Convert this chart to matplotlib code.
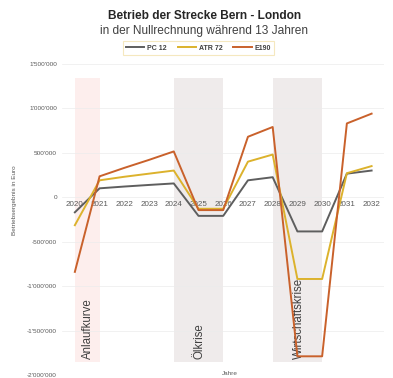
import matplotlib
matplotlib.use("Agg")
import matplotlib.pyplot as plt
from matplotlib.ticker import FuncFormatter

plt.rcParams['font.family'] = ['Liberation Sans', 'DejaVu Sans']

years = [2020, 2021, 2022, 2023, 2024, 2025, 2026, 2027, 2028, 2029, 2030, 2031, 2032]
pc12 = [-170000, 100000, 120000, 138000, 155000, -210000, -210000, 190000, 225000, -385000, -385000, 265000, 300000]
atr72 = [-315000, 190000, 230000, 265000, 300000, -130000, -130000, 400000, 480000, -920000, -920000, 270000, 350000]
e190 = [-840000, 235000, 330000, 420000, 515000, -145000, -145000, 680000, 790000, -1790000, -1790000, 830000, 940000]

series_names = ["PC 12", "ATR 72", "E190"]
series_colors = ["#5e5e5e", "#dcb22c", "#c9612b"]

crises = ["Anlaufkurve", "Ölkrise", "Wirtschaftskrise"]
crisis_start = [2020, 2024, 2028]
crisis_end = [2021, 2026, 2030]
crisis_colors = ["#fdeeed", "#efebeb", "#efebeb"]
band_top = 1340000
band_bottom = -1850000

yticks = [1500000, 1000000, 500000, 0, -500000, -1000000, -1500000, -2000000]

fig = plt.figure(figsize=(3.93, 3.78), dpi=100)
ax = fig.add_axes([0.159, 0.008, 0.818, 0.823])

for name, s, e, c in zip(crises, crisis_start, crisis_end, crisis_colors):
    ax.fill_between([s, e], band_bottom, band_top, color=c, zorder=0, linewidth=0)
    ax.text((s + e) / 2 + 0.05, -1820000, name, rotation=90, ha='center', va='bottom',
            fontsize=8.3, color='#404040', zorder=1)

for vals, name, col in zip([pc12, atr72, e190], series_names, series_colors):
    ax.plot(years, vals, color=col, lw=1.4, label=name, zorder=3)

ax.set_xlim(2019.5, 2032.5)
ax.set_ylim(-2000000, 1500000)
ax.set_yticks(yticks)

def fmt(v, pos):
    s = f"{abs(int(v)):,}".replace(",", "'")
    return ("-" if v < 0 else "") + s

ax.yaxis.set_major_formatter(FuncFormatter(fmt))
ax.set_xticks(years)
ax.set_xticklabels([str(y) for y in years])
for sp in ['top', 'right', 'left']:
    ax.spines[sp].set_visible(False)
ax.spines['bottom'].set_position(('data', 0))
ax.spines['bottom'].set_visible(False)
ax.tick_params(axis='x', length=0, pad=3, labelsize=5.8, labelcolor='#595959')
ax.tick_params(axis='y', length=0, pad=4, labelsize=4.6, labelcolor='#595959')
ax.grid(axis='y', color='#ececec', lw=0.5, zorder=0.5)
ax.set_axisbelow(True)

fig.text(0.038, 0.47, "Betriebsergebnis in Euro", rotation=90, ha='center', va='center',
         fontsize=4.6, color='#595959')
fig.text(0.585, 0.013, "Jahre", ha='center', va='center', fontsize=4.6, color='#595959')

fig.text(0.52, 0.957, "Betrieb der Strecke Bern - London", ha='center', va='center',
         fontsize=8.6, fontweight='bold', color='#262626')
fig.text(0.52, 0.917, "in der Nullrechnung während 13 Jahren", ha='center', va='center',
         fontsize=8.6, color='#404040')

leg = fig.legend(loc='center', bbox_to_anchor=(0.505, 0.873), ncol=3, frameon=True,
                 fontsize=5, handlelength=2.6, columnspacing=1.6, handletextpad=0.4,
                 borderpad=0.5, fancybox=False)
leg.get_frame().set_edgecolor('#f3e3b0')
leg.get_frame().set_linewidth(0.8)
for t in leg.get_texts():
    t.set_fontweight('bold')
    t.set_color('#404040')

fig.savefig("out.png", dpi=100)
